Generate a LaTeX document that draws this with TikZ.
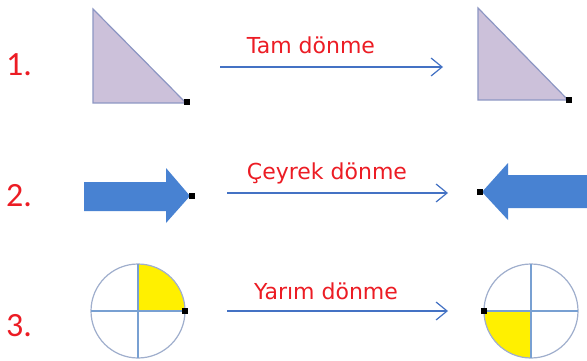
\documentclass[tikz,border=0pt]{standalone}
\usepackage{fontspec}
\setmainfont{DejaVu Sans}
\newfontfamily\numfont{Carlito}
\usetikzlibrary{arrows.meta}
\definecolor{txtred}{RGB}{236,28,36}
\definecolor{lineblue}{RGB}{68,114,196}
\definecolor{trifill}{RGB}{204,193,218}
\definecolor{triline}{RGB}{140,150,195}
\definecolor{shapeblue}{RGB}{72,130,210}
\definecolor{circline}{RGB}{160,175,205}
\definecolor{crossline}{RGB}{120,160,210}
\definecolor{yel}{RGB}{255,240,0}
\tikzset{
  numlbl/.style={text=txtred, font=\numfont\fontsize{34}{38}\selectfont, anchor=base west, inner sep=0},
  turnlbl/.style={text=txtred, font=\fontsize{22}{26}\selectfont, anchor=base, inner sep=0},
  turnarrow/.style={draw=lineblue, line width=1.4pt, -{Straight Barb[length=11pt,width=18pt,line width=1.2pt]}},
  tri/.style={fill=trifill, draw=triline, line width=1.2pt},
  bigarrow/.style={fill=shapeblue, draw=none},
  dotmark/.style={fill=black, minimum size=6pt, inner sep=0, draw=none, rectangle},
  circ/.style={draw=circline, line width=1.2pt},
  cross/.style={draw=crossline, line width=1.2pt},
}
\begin{document}
\begin{tikzpicture}[x=1pt,y=-1pt]
\useasboundingbox (0,0) rectangle (587,361);
\fill[white] (0,0) rectangle (587,361);
% numbers
\node[numlbl] (n1) at (6,76) {1.};
\node[numlbl] (n2) at (6,206) {2.};
\node[numlbl] (n3) at (6,336) {3.};
% row 1
\draw[tri] (93,9) -- (93,103) -- (186,103) -- cycle;
\node[dotmark] (d1) at (187,102) {};
\draw[tri] (478,8) -- (478,100) -- (568,100) -- cycle;
\node[dotmark] (d2) at (569,100) {};
\coordinate (a1s) at (220,67);
\coordinate (a1e) at (443,67);
\draw[turnarrow] (a1s) -- (a1e);
\node[turnlbl] (l1) at (311,54) {Tam dönme};
% row 2
\fill[bigarrow] (84,182) -- (166,182) -- (166,168) -- (190,196) -- (166,223) -- (166,211) -- (84,211) -- cycle;
\node[dotmark] (d3) at (192,196) {};
\begin{scope}
\clip (0,0) rectangle (587,361);
\fill[bigarrow] (482,192) -- (508,163) -- (508,175) -- (600,175) -- (600,208) -- (508,208) -- (508,220) -- cycle;
\end{scope}
\node[dotmark] (d4) at (480,192) {};
\coordinate (a2s) at (227,193);
\coordinate (a2e) at (448,193);
\draw[turnarrow] (a2s) -- (a2e);
\node[turnlbl] (l2) at (327,179) {Çeyrek dönme};
% row 3
\coordinate (c1) at (138,311);
\coordinate (c2) at (531,311);
\fill[yel] (c1) -- ++(47pt,0pt) arc[start angle=0, end angle=90, radius=47pt] -- cycle;
\draw[circ] (c1) circle[radius=47pt];
\draw[cross] (91,311) -- (185,311);
\draw[cross] (138,264) -- (138,358);
\node[dotmark] (d5) at (185,311) {};
\fill[yel] (c2) -- ++(-47pt,0pt) arc[start angle=180, end angle=270, radius=47pt] -- cycle;
\draw[circ] (c2) circle[radius=47pt];
\draw[cross] (484,311) -- (578,311);
\draw[cross] (531,264) -- (531,358);
\node[dotmark] (d6) at (484,311) {};
\coordinate (a3s) at (227,311);
\coordinate (a3e) at (448,311);
\draw[turnarrow] (a3s) -- (a3e);
\node[turnlbl] (l3) at (326,299) {Yarım dönme};
\end{tikzpicture}
\end{document}
